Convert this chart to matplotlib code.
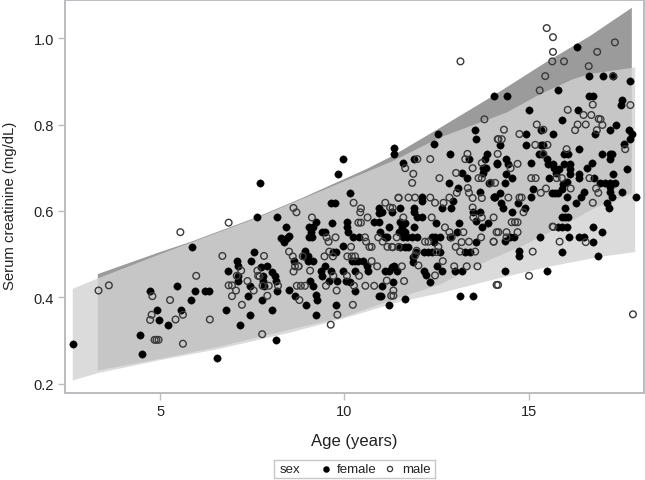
import numpy as np
import matplotlib
matplotlib.use("Agg")
import matplotlib.pyplot as plt

plt.rcParams['font.family'] = ['Liberation Sans', 'DejaVu Sans']

# points, one line of age per line of creatinine
female_age = [
    2.64, 7.62, 5.87, 4.73, 5.47, 5.95, 6.22, 6.33, 5.84, 4.91,
    4.96, 5.56, 5.21, 4.45, 4.51, 6.55, 6.78, 7.18, 7.45, 7.38,
    7.44, 6.84, 7.08, 7.12, 7.12, 7.12, 7.48, 7.54, 7.71, 8.17,
    8.42, 8.27, 8.36, 8.44, 8.50, 7.74, 7.91, 8.03, 8.11, 8.15,
    8.18, 7.80, 7.80, 7.82, 7.76, 8.03, 8.50, 8.67, 8.62, 8.15,
    9.97, 9.83, 10.15, 9.65, 9.74, 9.23, 9.66, 9.05, 9.14, 9.09,
    9.05, 9.12, 9.38, 9.48, 10.08, 10.08, 10.11, 10.23, 10.41, 9.97,
    9.78, 9.70, 8.94, 9.02, 9.16, 8.91, 9.02, 9.48, 9.36, 9.39,
    9.63, 9.59, 9.79, 9.97, 10.05, 10.14, 10.20, 10.29, 10.38, 10.29,
    10.50, 10.61, 10.63, 11.11, 11.21, 11.35, 11.42, 11.02, 9.07, 9.16,
    10.29, 8.95, 9.23, 9.27, 9.78, 9.23, 10.94, 10.99, 11.21, 11.02,
    10.95, 10.93, 10.81, 10.93, 11.20, 10.97, 11.11, 11.17, 11.51, 11.47,
    12.55, 12.44, 13.57, 13.55, 11.35, 11.35, 12.87, 11.60, 11.89, 13.86,
    13.82, 13.37, 14.13, 13.75, 13.84, 13.75, 13.18, 13.34, 12.84, 13.92,
    13.07, 13.67, 14.05, 12.12, 12.10, 12.96, 12.89, 12.64, 11.51, 11.29,
    11.88, 11.88, 11.96, 12.10, 13.48, 13.68, 13.57, 13.73, 13.91, 13.10,
    12.49, 11.56, 11.65, 11.89, 11.56, 11.65, 11.51, 11.60, 11.69, 11.83,
    11.96, 12.39, 12.46, 12.60, 12.42, 11.51, 11.65, 11.74, 12.87, 13.05,
    13.57, 12.15, 12.28, 12.37, 12.60, 11.95, 11.87, 11.87, 13.28, 13.41,
    13.00, 13.18, 12.15, 12.22, 12.33, 12.50, 12.64, 11.29, 11.33, 13.14,
    13.48, 11.65, 15.01, 15.90, 16.35, 15.33, 14.93, 15.67, 16.79, 14.93,
    15.33, 15.40, 14.21, 16.37, 15.27, 15.36, 15.96, 16.08, 15.49, 15.52,
    14.38, 14.45, 14.13, 15.07, 15.65, 15.68, 15.83, 15.74, 15.96, 16.13,
    16.13, 16.13, 16.72, 16.58, 14.39, 14.56, 14.36, 15.54, 16.37, 16.37,
    16.03, 15.93, 15.90, 15.81, 15.63, 15.72, 16.78, 15.11, 14.23, 14.05,
    14.08, 15.06, 16.03, 16.50, 16.42, 16.29, 14.25, 14.30, 14.70, 14.91,
    14.56, 15.99, 15.90, 15.99, 16.08, 15.81, 15.90, 16.03, 16.74, 15.31,
    16.10, 16.36, 16.51, 16.74, 14.36, 14.50, 14.59, 14.74, 14.74, 15.90,
    16.89, 16.32, 16.63, 17.02, 17.29, 17.76, 15.81, 14.06, 14.42, 16.63,
    16.74, 17.54, 17.51, 17.20, 17.37, 17.71, 17.81, 17.75, 17.60, 16.99,
    17.27, 17.20, 17.22, 17.67, 17.28, 17.91, 17.54, 16.94, 17.08, 17.21,
    17.33, 17.21, 17.21, 17.25, 17.13, 17.17, 17.00, 15.49, 14.37,
]
female_creat = [
    .293, .585, .517, .416, .427, .416, .416, .416, .394, .370,
    .349, .370, .336, .314, .269, .260, .370, .336, .360, .403,
    .427, .462, .484, .473, .450, .438, .484, .505, .664, .585,
    .563, .538, .529, .538, .541, .470, .472, .460, .449, .438,
    .416, .449, .438, .427, .394, .370, .417, .404, .484, .302,
    .720, .686, .642, .619, .619, .574, .573, .562, .562, .551,
    .539, .539, .551, .551, .574, .562, .552, .539, .539, .518,
    .506, .505, .507, .495, .484, .495, .484, .473, .462, .450,
    .462, .439, .439, .462, .439, .435, .485, .484, .485, .462,
    .484, .472, .462, .462, .462, .472, .462, .427, .439, .427,
    .416, .383, .406, .395, .383, .360, .404, .404, .383, .597,
    .606, .595, .574, .574, .562, .551, .539, .539, .574, .551,
    .779, .754, .766, .787, .745, .732, .732, .711, .720, .732,
    .720, .720, .711, .699, .699, .688, .688, .676, .665, .665,
    .653, .643, .632, .632, .622, .622, .608, .608, .608, .597,
    .608, .598, .585, .585, .598, .597, .576, .564, .572, .572,
    .572, .572, .572, .562, .562, .551, .551, .539, .539, .539,
    .539, .539, .539, .539, .528, .516, .516, .516, .539, .551,
    .529, .505, .505, .505, .505, .505, .493, .482, .505, .505,
    .462, .462, .462, .452, .436, .473, .462, .470, .436, .404,
    .404, .397, .833, .811, .834, .788, .778, .778, .778, .753,
    .753, .753, .753, .743, .732, .732, .732, .732, .720, .709,
    .720, .709, .709, .710, .709, .699, .697, .688, .709, .709,
    .697, .686, .711, .699, .686, .676, .665, .676, .686, .676,
    .668, .662, .651, .642, .642, .642, .676, .652, .642, .632,
    .632, .632, .632, .643, .632, .619, .619, .607, .619, .608,
    .597, .607, .585, .585, .585, .564, .564, .564, .564, .539,
    .539, .539, .539, .529, .531, .539, .539, .507, .495, .505,
    .497, .980, .912, .912, .912, .901, .879, .867, .867, .867,
    .867, .856, .845, .787, .799, .787, .778, .766, .754, .732,
    .732, .732, .720, .697, .686, .632, .643, .665, .665, .665,
    .665, .655, .643, .632, .619, .606, .551, .462, .462,
]

male_age = [
    3.33, 3.61, 5.55, 6.86, 6.69, 5.98, 5.27, 4.79, 4.77, 4.73,
    5.62, 5.42, 6.35, 4.85, 4.90, 4.96, 5.62, 7.22, 6.95, 7.06,
    6.86, 6.95, 7.20, 7.08, 7.37, 7.54, 7.64, 7.66, 7.82, 8.62,
    8.70, 8.50, 8.60, 8.62, 8.66, 7.70, 7.78, 7.95, 8.20, 7.91,
    7.77, 8.71, 8.75, 9.12, 9.76, 9.57, 9.52, 10.25, 10.45, 10.43,
    10.63, 10.38, 10.45, 11.11, 11.24, 11.47, 10.18, 9.59, 9.46, 9.69,
    10.56, 10.59, 10.68, 10.74, 10.92, 11.04, 11.17, 11.29, 11.47, 10.08,
    10.20, 10.29, 10.74, 10.89, 8.87, 8.76, 9.07, 9.70, 10.07, 10.40,
    9.50, 9.79, 8.82, 8.93, 10.26, 10.57, 10.81, 11.15, 11.33, 11.27,
    11.33, 8.78, 10.23, 9.81, 9.63, 11.47, 11.74, 11.92, 12.33, 12.46,
    12.69, 12.85, 11.98, 12.33, 11.65, 11.87, 11.84, 12.58, 13.34, 13.28,
    13.48, 13.03, 13.64, 13.73, 13.73, 13.97, 14.09, 14.16, 14.16, 13.05,
    13.35, 13.38, 13.48, 13.73, 13.48, 13.50, 13.73, 12.37, 11.60, 11.31,
    12.73, 12.85, 12.91, 13.23, 13.71, 14.13, 14.05, 12.19, 12.28, 11.31,
    11.42, 13.02, 13.18, 13.38, 13.14, 13.55, 12.55, 12.50, 11.96, 11.92,
    12.67, 12.01, 12.46, 12.98, 13.32, 13.61, 11.56, 11.62, 14.13, 16.06,
    16.74, 16.49, 16.70, 16.33, 16.55, 16.26, 16.90, 16.85, 15.22, 15.40,
    14.33, 14.75, 14.27, 15.18, 15.51, 14.18, 16.03, 15.40, 14.70, 14.51,
    15.07, 15.19, 15.76, 15.90, 16.65, 16.14, 15.47, 15.33, 16.83, 16.89,
    14.45, 14.81, 14.75, 16.74, 14.86, 14.05, 14.54, 14.63, 14.70, 15.65,
    14.18, 14.40, 14.70, 14.05, 14.40, 15.84, 16.55, 15.11, 13.15, 15.49,
    15.66, 15.66, 15.64, 15.96, 16.86, 17.34, 16.63, 15.45, 15.30, 17.29,
    13.80, 17.76, 16.95, 17.00, 17.62, 17.83, 14.17, 15.01, 15.67,
]
male_creat = [
    .416, .428, .551, .573, .496, .450, .394, .403, .360, .348,
    .360, .349, .349, .302, .302, .302, .293, .383, .403, .416,
    .428, .428, .462, .450, .438, .416, .462, .450, .496, .607,
    .597, .506, .495, .460, .472, .449, .427, .427, .427, .404,
    .315, .427, .472, .585, .539, .529, .539, .619, .606, .597,
    .585, .573, .573, .619, .608, .630, .517, .506, .495, .495,
    .539, .529, .517, .517, .539, .529, .517, .517, .517, .495,
    .495, .495, .484, .472, .495, .472, .462, .450, .450, .450,
    .427, .416, .427, .427, .427, .427, .427, .439, .416, .404,
    .404, .394, .383, .360, .337, .631, .631, .631, .631, .619,
    .619, .631, .720, .720, .699, .686, .665, .676, .732, .720,
    .699, .688, .676, .676, .711, .665, .665, .732, .766, .642,
    .653, .642, .630, .630, .608, .585, .585, .585, .585, .607,
    .562, .551, .539, .551, .539, .551, .529, .529, .529, .516,
    .539, .517, .528, .529, .506, .506, .517, .505, .508, .497,
    .484, .474, .451, .472, .472, .472, .472, .438, .429, .834,
    .846, .822, .822, .800, .800, .787, .813, .787, .800, .788,
    .788, .778, .766, .753, .753, .766, .743, .732, .709, .699,
    .676, .676, .676, .676, .676, .652, .652, .642, .652, .642,
    .631, .631, .631, .619, .597, .585, .574, .574, .574, .564,
    .551, .551, .551, .529, .539, .529, .528, .506, .946, 1.023,
    1.002, .968, .946, .946, .968, .990, .935, .912, .879, .912,
    .812, .845, .812, .799, .743, .361, .429, .450, .563,
]

# the two shaded reference bands, upper and lower edge
band_a_upper_age = [3.31, 5.0, 5.81, 7.6, 8.8, 10.6, 11.3, 12.55, 14.05, 15.49, 16.67, 17.8]
band_a_upper = [.454, .505, .528, .585, .628, .697, .727, .79, .867, .945, 1.005, 1.07]
band_a_lower_age = [3.31, 5.0, 6.55, 8.5, 10.0, 11.5, 12.6, 13.05, 14.0, 14.85, 16.13, 16.75, 17.8]
band_a_lower = [.231, .258, .285, .325, .355, .40, .43, .45, .489, .52, .575, .605, .64]

band_b_upper_age = [2.63, 3.31, 5.0, 5.81, 7.6, 8.8, 10.6, 11.3, 12.6, 14.41, 15.31, 16.21, 16.67, 17.89]
band_b_upper = [.42, .444, .50, .526, .583, .626, .69, .715, .77, .828, .87, .905, .917, .932]
band_b_lower_age = [2.63, 3.31, 5.0, 6.55, 8.5, 10.0, 11.5, 12.6, 14.13, 15.49, 16.94, 17.89]
band_b_lower = [.208, .225, .255, .28, .318, .352, .39, .41, .443, .47, .494, .505]

x_ticks = [5, 10, 15]
y_ticks = [0.2, 0.4, 0.6, 0.8, 1.0]

FRAME = "#b9bdc1"
TEXT = "#222222"

fig = plt.figure(figsize=(6.45, 4.81), dpi=100)
ax = fig.add_axes([65 / 645, 1 - 394 / 481, (644 - 65) / 645, 393 / 481])


def band(upper_age, upper, lower_age, lower):
    # closed outline: along the top edge, back along the bottom edge
    xs = np.concatenate([upper_age, lower_age[::-1]])
    ys = np.concatenate([upper, lower[::-1]])
    return xs, ys


xs, ys = band(band_a_upper_age, band_a_upper, band_a_lower_age, band_a_lower)
ax.fill(xs, ys, color="#9b9b9b", lw=0, zorder=1)
xs, ys = band(band_b_upper_age, band_b_upper, band_b_lower_age, band_b_lower)
ax.fill(xs, ys, color="#d2d2d2", alpha=0.795, lw=0, zorder=2)

ax.scatter(female_age, female_creat, s=28, color="black", lw=0.3, zorder=3)
ax.scatter(male_age, male_creat, s=23, facecolor="none", edgecolor="#3a3a3a", lw=1.0, zorder=4)

ax.set_xlim(2.42, 18.13)
ax.set_ylim(0.179, 1.088)
ax.set_xticks(x_ticks)
ax.set_yticks(y_ticks)
ax.set_yticklabels(["0.2", "0.4", "0.6", "0.8", "1.0"])
ax.tick_params(color=FRAME, length=5, width=1, labelsize=10.5, labelcolor=TEXT, pad=3)
for side in ax.spines.values():
    side.set_color(FRAME)
    side.set_linewidth(1.4)
ax.set_xlabel("Age (years)", fontsize=12, color=TEXT, labelpad=11)
ax.set_ylabel("Serum creatinine (mg/dL)", fontsize=10.7, color=TEXT)
ax.yaxis.set_label_coords(-48 / 579, 0.478)

# legend strip below the plot
leg = fig.add_axes([274 / 645, 1 - 479 / 481, 161 / 645, 18 / 481])
leg.set_xlim(0, 161)
leg.set_ylim(0, 18)
leg.set_xticks([])
leg.set_yticks([])
for side in leg.spines.values():
    side.set_color("#c8c8c8")
    side.set_linewidth(1)
leg.text(6, 8.5, "sex", fontsize=9.5, color=TEXT, va="center")
leg.scatter([52], [9], s=22, color="black", lw=0)
leg.text(63, 8.5, "female", fontsize=9.5, color=TEXT, va="center")
leg.scatter([116], [9], s=14, facecolor="none", edgecolor="#333333", lw=0.9)
leg.text(128, 8.5, "male", fontsize=9.5, color=TEXT, va="center")

fig.savefig("out.png", dpi=100)
